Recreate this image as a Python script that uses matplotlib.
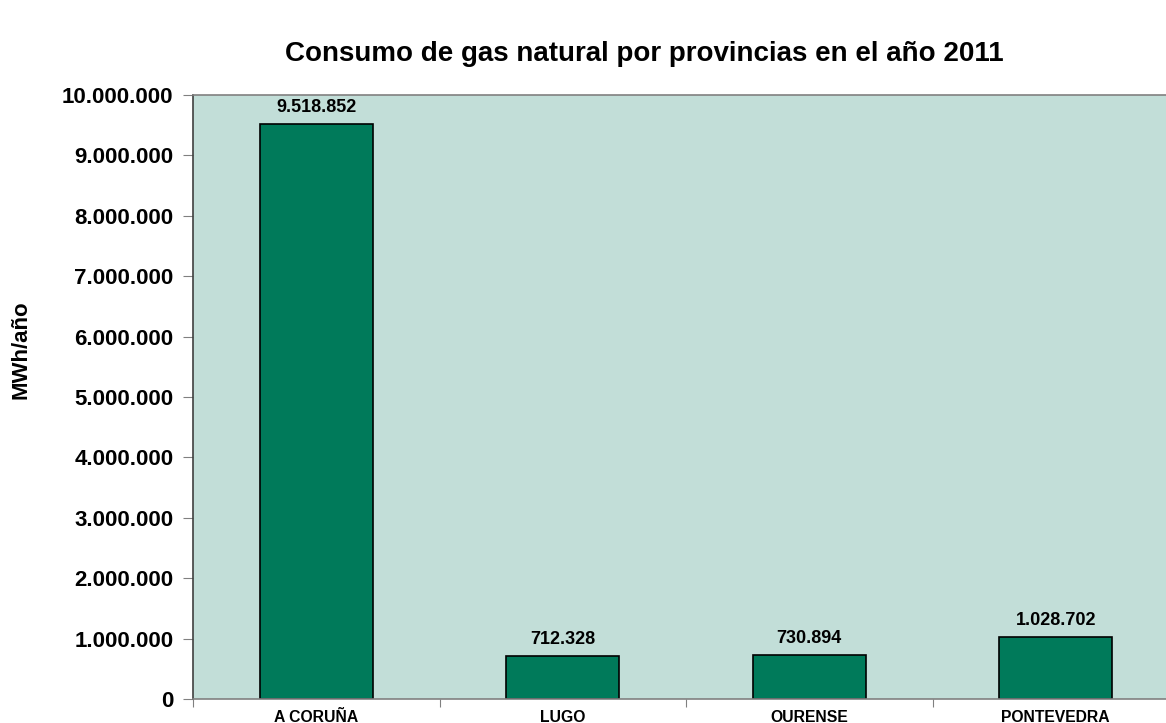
import matplotlib
matplotlib.use("Agg")
import matplotlib.pyplot as plt
from matplotlib.ticker import FuncFormatter, FixedLocator

BG = "#c2ded8"
BAR = "#007a5a"
SPINE = "#808080"

provincias = ["A CORUÑA", "LUGO", "OURENSE", "PONTEVEDRA"]
consumo = [9518852, 712328, 730894, 1028702]
yticks = [0, 1000000, 2000000, 3000000, 4000000, 5000000,
          6000000, 7000000, 8000000, 9000000, 10000000]

plt.rcParams["font.family"] = ["Liberation Sans", "DejaVu Sans"]


def miles(v, _pos=None):
    return f"{int(round(v)):,}".replace(",", ".")


fig = plt.figure(figsize=(11.66, 7.23), dpi=100)
ax = fig.add_axes([193 / 1166, 24 / 723, 986 / 1166, 604 / 723])
ax.set_facecolor(BG)

x = range(len(provincias))
bars = ax.bar(x, consumo, width=0.46, color=BAR, edgecolor="black", linewidth=1.2)
for b, v in zip(bars, consumo):
    ax.annotate(miles(v), (b.get_x() + b.get_width() / 2, v), xytext=(0, 6),
                textcoords="offset points", ha="center", va="bottom",
                fontsize=13, fontweight="bold")

ax.set_xlim(-0.5, len(provincias) - 0.5)
ax.set_ylim(0, 10000000)
ax.set_yticks(yticks)
ax.yaxis.set_major_formatter(FuncFormatter(miles))

# ticks between categories, labels centred on the bars
ax.xaxis.set_major_locator(FixedLocator([i - 0.5 for i in range(len(provincias))]))
ax.xaxis.set_major_formatter(FuncFormatter(lambda v, p: ""))
ax.set_xticks(list(x), minor=True)
ax.set_xticklabels(provincias, minor=True, fontsize=11.3, fontweight="bold")
ax.tick_params(axis="x", which="minor", length=0, pad=8)
ax.tick_params(axis="x", which="major", length=6, color=SPINE, direction="out")
ax.tick_params(axis="y", length=7, color=SPINE, direction="out", pad=7)
for lab in ax.get_yticklabels():
    lab.set_fontsize(16)
    lab.set_fontweight("bold")

for s in ax.spines.values():
    s.set_color(SPINE)
    s.set_linewidth(1.2)
ax.spines["left"].set_color("#404040")

# axis title sits above the axes centre, as in the original
fig.text(21 / 1166, 1 - 350 / 723, "MWh/año", rotation=90, ha="center", va="center",
         fontsize=16, fontweight="bold")
fig.text(0.553, 0.926, "Consumo de gas natural por provincias en el año 2011",
         ha="center", va="center", fontsize=20, fontweight="bold")

fig.savefig("out.png", dpi=100, facecolor="white")
